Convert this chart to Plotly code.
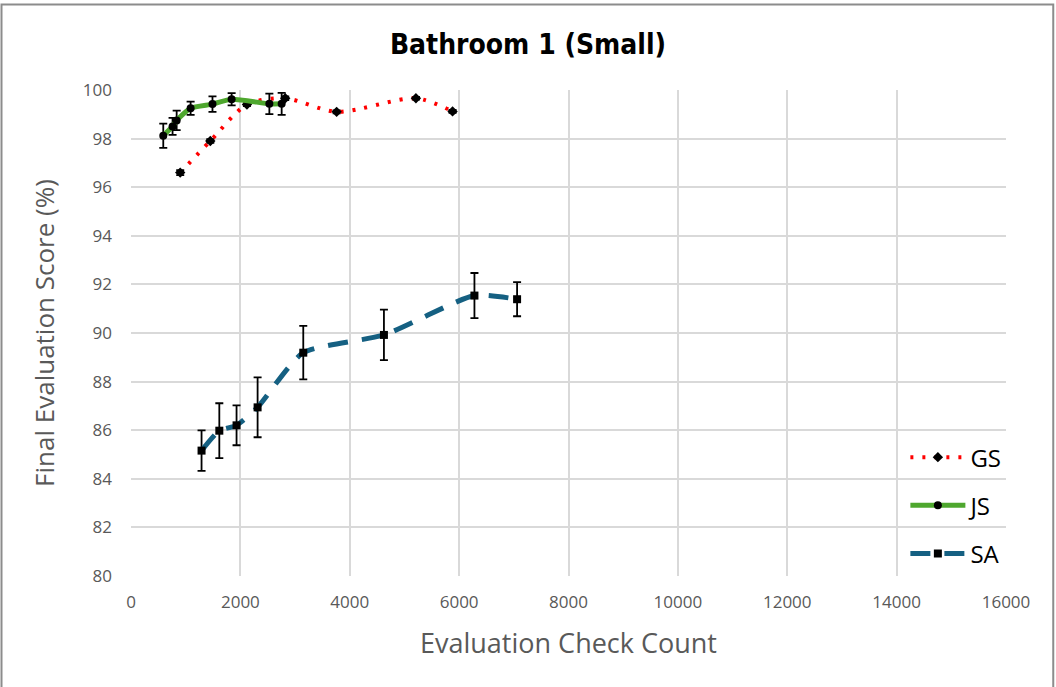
import plotly.graph_objects as go

gs_x = [900, 1450, 2120, 2820, 3760, 5210, 5880]
gs_y = [96.6, 97.9, 99.4, 99.66, 99.1, 99.66, 99.12]
gs_err = [0.1, 0.08, 0.06, 0.08, 0.06, 0.06, 0.06]

js_x = [590, 760, 835, 1090, 1490, 1840, 2530, 2755]
js_y = [98.12, 98.5, 98.75, 99.25, 99.42, 99.62, 99.43, 99.43]
js_err = [0.5, 0.35, 0.4, 0.27, 0.32, 0.25, 0.42, 0.45]

sa_x = [1290, 1615, 1930, 2315, 3150, 4625, 6280, 7060]
sa_y = [85.16, 85.98, 86.2, 86.94, 89.19, 89.92, 91.54, 91.39]
sa_err = [0.83, 1.13, 0.82, 1.23, 1.1, 1.04, 0.93, 0.7]

font = "Open Sans"
gray = "#595959"

fig = go.Figure()
fig.add_trace(go.Scatter(
    x=gs_x, y=gs_y, name="GS", legendgroup="gs", mode="lines+markers",
    line=dict(color="#ff0000", width=4, dash="3px,9px", shape="spline", smoothing=0.8),
    marker=dict(symbol="diamond", color="black", size=8),
    error_y=dict(type="data", array=gs_err, color="black", thickness=1.8, width=4),
))
fig.add_trace(go.Scatter(
    x=js_x, y=js_y, name="JS", legendgroup="js", mode="lines+markers",
    line=dict(color="#4ea72e", width=5, shape="spline", smoothing=0.6),
    marker=dict(symbol="circle", color="black", size=8),
    error_y=dict(type="data", array=js_err, color="black", thickness=1.8, width=4),
))
fig.add_trace(go.Scatter(
    x=sa_x, y=sa_y, name="SA", legendgroup="sa", mode="lines+markers",
    line=dict(color="#156082", width=5, dash="20px,14px", shape="spline", smoothing=0.6),
    marker=dict(symbol="square", color="black", size=8),
    error_y=dict(type="data", array=sa_err, color="black", thickness=1.8, width=4),
))

fig.update_layout(
    width=1056, height=687,
    margin=dict(l=131, r=50, t=90, b=111),
    paper_bgcolor="white", plot_bgcolor="white",
    title=dict(text="<b>Bathroom 1 (Small)</b>", x=0.5, xanchor="center", y=0.935, yanchor="middle",
               font=dict(family="DejaVu Sans Condensed, Roboto", size=28, color="black")),
    font=dict(family=font, color=gray),
    showlegend=True,
    legend=dict(x=0.885, y=0.29, xanchor="left", yanchor="top", bgcolor="rgba(0,0,0,0)",
                font=dict(family=font, size=24, color="black"), tracegroupgap=14, itemwidth=55),
    xaxis=dict(range=[0, 16000], dtick=2000, tickformat="d", showgrid=True, gridcolor="#d9d9d9", gridwidth=1.5,
               zeroline=False, showline=False, ticks="", tickfont=dict(size=17, color=gray),
               ticklabelstandoff=14,
               title=dict(text="Evaluation Check Count", font=dict(size=27, color=gray), standoff=22)),
    yaxis=dict(range=[80, 100], dtick=2, showgrid=True, gridcolor="#d9d9d9", gridwidth=1.5,
               zeroline=False, showline=False, ticks="", tickfont=dict(size=17, color=gray),
               ticklabelstandoff=18,
               title=dict(text="Final Evaluation Score (%)", font=dict(size=26, color=gray), standoff=20)),
)
fig.add_shape(type="rect", xref="paper", yref="paper", x0=-0.148, x1=1.054, y0=-0.3, y1=1.176,
              line=dict(color="#8c8c8c", width=2), fillcolor="rgba(0,0,0,0)", layer="below")
fig.write_html("out.html", config={"displayModeBar": False},
               post_script="document.body.style.margin='0px';")
